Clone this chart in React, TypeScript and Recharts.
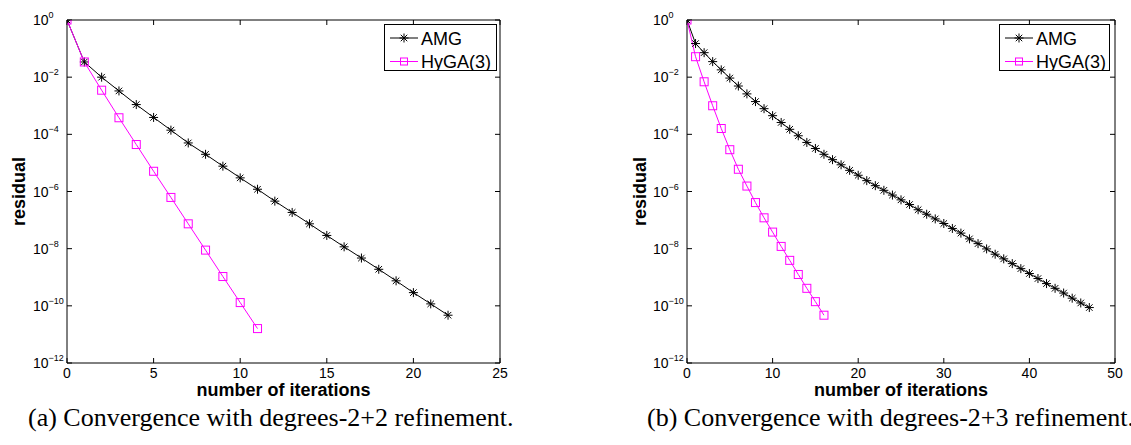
import React from "react";
import { LineChart, Line, XAxis, YAxis, Legend, Label } from "recharts";

const FONT = '"Liberation Sans", Arial, Helvetica, sans-serif';

// residual per iteration (index = iteration number)
const amgA = [
  1, 3.4e-2, 1.0e-2, 3.3e-3, 1.1e-3, 3.9e-4, 1.4e-4, 5.0e-5, 2.0e-5, 7.7e-6, 3.0e-6, 1.2e-6,
  4.6e-7, 1.85e-7, 7.4e-8, 2.9e-8, 1.16e-8, 4.7e-9, 1.9e-9, 7.5e-10, 2.9e-10, 1.17e-10, 4.7e-11,
];
const hygaA = [
  1, 3.4e-2, 3.5e-3, 3.8e-4, 4.4e-5, 5.1e-6, 6.2e-7, 7.4e-8, 8.9e-9, 1.06e-9, 1.3e-10, 1.6e-11,
];

const amgB = [
  1, 1.5e-1, 7.2e-2, 3.5e-2, 1.8e-2, 9.3e-3, 4.9e-3, 2.6e-3, 1.4e-3, 7.9e-4, 4.5e-4, 2.6e-4,
  1.5e-4, 8.9e-5, 5.2e-5, 3.2e-5, 2.0e-5, 1.3e-5, 8.6e-6, 5.5e-6, 3.7e-6, 2.4e-6, 1.6e-6, 1.1e-6,
  7.5e-7, 5.1e-7, 3.5e-7, 2.3e-7, 1.6e-7, 1.1e-7, 7.6e-8, 5.1e-8, 3.5e-8, 2.2e-8, 1.5e-8, 9.8e-9,
  6.4e-9, 4.4e-9, 3.0e-9, 2.0e-9, 1.35e-9, 9.0e-10, 6.0e-10, 4.1e-10, 2.8e-10, 1.85e-10, 1.26e-10,
  8.7e-11,
];
const hygaB = [
  1, 5.2e-2, 6.9e-3, 1.0e-3, 1.6e-4, 2.9e-5, 6.0e-6, 1.55e-6, 4.1e-7, 1.2e-7, 3.8e-8, 1.2e-8,
  3.9e-9, 1.25e-9, 4.1e-10, 1.4e-10, 4.7e-11,
];

const xTicksA = [0, 5, 10, 15, 20, 25];
const xTicksB = [0, 10, 20, 30, 40, 50];
const yTicks = [1, 1e-2, 1e-4, 1e-6, 1e-8, 1e-10, 1e-12];

const seriesNames = { amg: "AMG", hyga: "HyGA(3)" };
const MAGENTA = "#ff00ff";

function PowTick(props: any) {
  const { x, y, payload } = props;
  const e = Math.round(Math.log10(payload.value));
  return (
    <text x={x - 26} y={y + 5} textAnchor="start" fontSize={14} fill="#000" fontFamily={FONT}>
      10
      <tspan dy={-7} fontSize={9}>
        {e === 0 ? "0" : `\u2212${-e}`}
      </tspan>
    </text>
  );
}

function XTick(props: any) {
  const { x, y, payload } = props;
  return (
    <text x={x} y={y + 10} textAnchor="middle" fontSize={14} fill="#000" fontFamily={FONT}>
      {payload.value}
    </text>
  );
}

const NoTick = () => <g />;

function Star({ cx, cy, r = 4.5 }: any) {
  const d = r * 0.72;
  return (
    <g stroke="#000" strokeWidth={1}>
      <line x1={cx - r} y1={cy} x2={cx + r} y2={cy} />
      <line x1={cx} y1={cy - r} x2={cx} y2={cy + r} />
      <line x1={cx - d} y1={cy - d} x2={cx + d} y2={cy + d} />
      <line x1={cx - d} y1={cy + d} x2={cx + d} y2={cy - d} />
    </g>
  );
}

function Square({ cx, cy, h = 4 }: any) {
  return <rect x={cx - h} y={cy - h} width={h * 2} height={h * 2} fill="none" stroke={MAGENTA} strokeWidth={1} />;
}

const StarDot = (p: any) => (p.cy == null || isNaN(p.cy) ? <g key={p.key} /> : <Star key={p.key} cx={p.cx} cy={p.cy} />);
const SquareDot = (p: any) =>
  p.cy == null || isNaN(p.cy) ? <g key={p.key} /> : <Square key={p.key} cx={p.cx} cy={p.cy} />;

const legendNames = Object.values(seriesNames);

function LegendBox({ payload, width }: any) {
  const h = 47;
  const entries = (payload || []).filter((e: any) => legendNames.includes(e.value));
  return (
    <svg width={width} height={h} style={{ display: "block" }}>
      <rect x={0.5} y={0.5} width={width - 1} height={h - 1} fill="#fff" stroke="#000" strokeWidth={1} />
      {entries.map((entry: any, i: number) => {
        const cy = 14 + i * 23.5;
        const isAmg = entry.dataKey === "amg";
        const color = isAmg ? "#000" : MAGENTA;
        return (
          <g key={entry.value}>
            <line x1={6} y1={cy} x2={34} y2={cy} stroke={color} strokeWidth={1} />
            {isAmg ? <Star cx={20} cy={cy} /> : <Square cx={20} cy={cy} h={3.5} />}
            <text x={37} y={cy + 6.5} fontSize={18} fontFamily={FONT} fill="#000">
              {entry.value}
            </text>
          </g>
        );
      })}
    </svg>
  );
}

interface PanelProps {
  amg: number[];
  hyga: number[];
  xTicks: number[];
  left: number;
  width: number;
  yAxisWidth: number;
  marginRight: number;
  legendLeft: number;
  legendWidth: number;
  yLabelX: number;
}

function Panel({ amg, hyga, xTicks, left, width, yAxisWidth, marginRight, legendLeft, legendWidth, yLabelX }: PanelProps) {
  const n = Math.max(amg.length, hyga.length);
  const rows = Array.from({ length: n }, (_, i) => ({
    iter: i,
    amg: i < amg.length ? amg[i] : null,
    hyga: i < hyga.length ? hyga[i] : null,
  }));
  const xMax = xTicks[xTicks.length - 1];

  return (
    <div style={{ position: "absolute", left, top: 0 }}>
      <LineChart width={width} height={400} data={rows} margin={{ top: 19, right: marginRight - 1, left: 0, bottom: 0 }}>
        <XAxis
          xAxisId="b"
          dataKey="iter"
          type="number"
          domain={[0, xMax]}
          ticks={xTicks}
          interval={0}
          height={37}
          tickSize={-5}
          tickMargin={10}
          tick={<XTick />}
          stroke="#000"
          allowDataOverflow
        >
          <Label
            content={(p: any) => {
              const vb = p.viewBox;
              return (
                <text
                  x={vb.x + vb.width / 2}
                  y={396}
                  textAnchor="middle"
                  fontSize={18}
                  fontWeight="bold"
                  fontFamily={FONT}
                  fill="#000"
                >
                  number of iterations
                </text>
              );
            }}
          />
        </XAxis>
        <XAxis
          xAxisId="t"
          dataKey="iter"
          orientation="top"
          type="number"
          domain={[0, xMax]}
          ticks={xTicks}
          interval={0}
          height={1}
          tickSize={-5}
          tick={NoTick}
          stroke="#000"
          allowDataOverflow
        />
        <YAxis
          yAxisId="l"
          scale="log"
          type="number"
          domain={[1e-12, 1]}
          ticks={yTicks}
          interval={0}
          width={yAxisWidth}
          tickSize={-5}
          tickMargin={13}
          tick={<PowTick />}
          stroke="#000"
          allowDataOverflow
        >
          <Label
            content={(p: any) => {
              const vb = p.viewBox;
              const cx = vb.x + yLabelX;
              const cy = vb.y + vb.height / 2;
              return (
                <text
                  x={cx}
                  y={cy}
                  transform={`rotate(-90 ${cx} ${cy})`}
                  textAnchor="middle"
                  dominantBaseline="central"
                  fontSize={18}
                  fontWeight="bold"
                  fontFamily={FONT}
                  fill="#000"
                >
                  residual
                </text>
              );
            }}
          />
        </YAxis>
        <YAxis
          yAxisId="r"
          orientation="right"
          scale="log"
          type="number"
          domain={[1e-12, 1]}
          ticks={yTicks}
          interval={0}
          width={1}
          tickSize={-5}
          tick={NoTick}
          stroke="#000"
          allowDataOverflow
        />
        <Legend
          layout="vertical"
          align="center"
          verticalAlign="middle"
          wrapperStyle={{ left: legendLeft, top: 24, width: legendWidth, height: 47 }}
          content={(p: any) => <LegendBox payload={p.payload} width={legendWidth} />}
        />
        {/* invisible series binding the mirrored top/right axes */}
        <Line
          xAxisId="t"
          yAxisId="r"
          dataKey="amg"
          stroke="none"
          dot={false}
          activeDot={false}
          legendType="none"
          isAnimationActive={false}
        />
        <Line
          xAxisId="b"
          yAxisId="l"
          type="linear"
          dataKey="amg"
          name={seriesNames.amg}
          stroke="#000"
          strokeWidth={1}
          dot={StarDot}
          activeDot={false}
          isAnimationActive={false}
        />
        <Line
          xAxisId="b"
          yAxisId="l"
          type="linear"
          dataKey="hyga"
          name={seriesNames.hyga}
          stroke={MAGENTA}
          strokeWidth={1}
          dot={SquareDot}
          activeDot={false}
          isAnimationActive={false}
        />
      </LineChart>
    </div>
  );
}

const captionStyle: React.CSSProperties = {
  position: "absolute",
  top: 403,
  fontFamily: '"Liberation Serif", "Times New Roman", serif',
  fontSize: 26,
  lineHeight: "30px",
  whiteSpace: "nowrap",
  color: "#000",
};

export default function App() {
  return (
    <div
      style={{
        position: "absolute",
        left: 0,
        top: 0,
        width: 1131,
        height: 445,
        overflow: "hidden",
        background: "#fff",
      }}
    >
      <Panel
        amg={amgA}
        hyga={hygaA}
        xTicks={xTicksA}
        left={0}
        width={520}
        yAxisWidth={67}
        marginRight={20}
        legendLeft={384}
        legendWidth={113}
        yLabelX={19}
      />
      <Panel
        amg={amgB}
        hyga={hygaB}
        xTicks={xTicksB}
        left={600}
        width={531}
        yAxisWidth={87}
        marginRight={16}
        legendLeft={399}
        legendWidth={111}
        yLabelX={40}
      />
      <div style={{ ...captionStyle, left: 28 }}>(a) Convergence with degrees-2+2 refinement.</div>
      <div style={{ ...captionStyle, left: 647 }}>(b) Convergence with degrees-2+3 refinement.</div>
    </div>
  );
}
